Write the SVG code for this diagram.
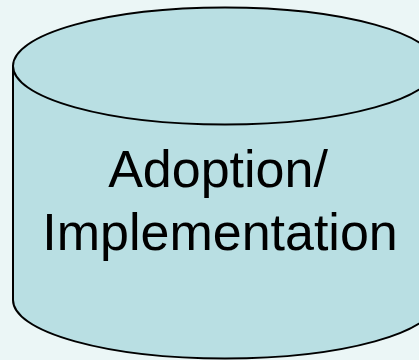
<svg xmlns="http://www.w3.org/2000/svg" width="419" height="360" viewBox="0 0 419 360">
<style>
.shape{fill:#b9dfe3;stroke:#000;stroke-width:2}
.lbl{font-family:"Liberation Sans",Arial,sans-serif;font-size:52px;fill:#000;text-anchor:middle}
</style>
<rect width="419" height="360" fill="#ebf6f6"/>
<g id="cylinder">
<path class="shape" d="M13,66 L13,300 A212,58.5 0 0 0 437,300 L437,66"/>
<ellipse class="shape" cx="225" cy="66" rx="212" ry="58.5"/>
<text class="lbl" x="218" y="187">Adoption/</text>
<text class="lbl" x="220" y="250">Implementation</text>
</g>
</svg>
